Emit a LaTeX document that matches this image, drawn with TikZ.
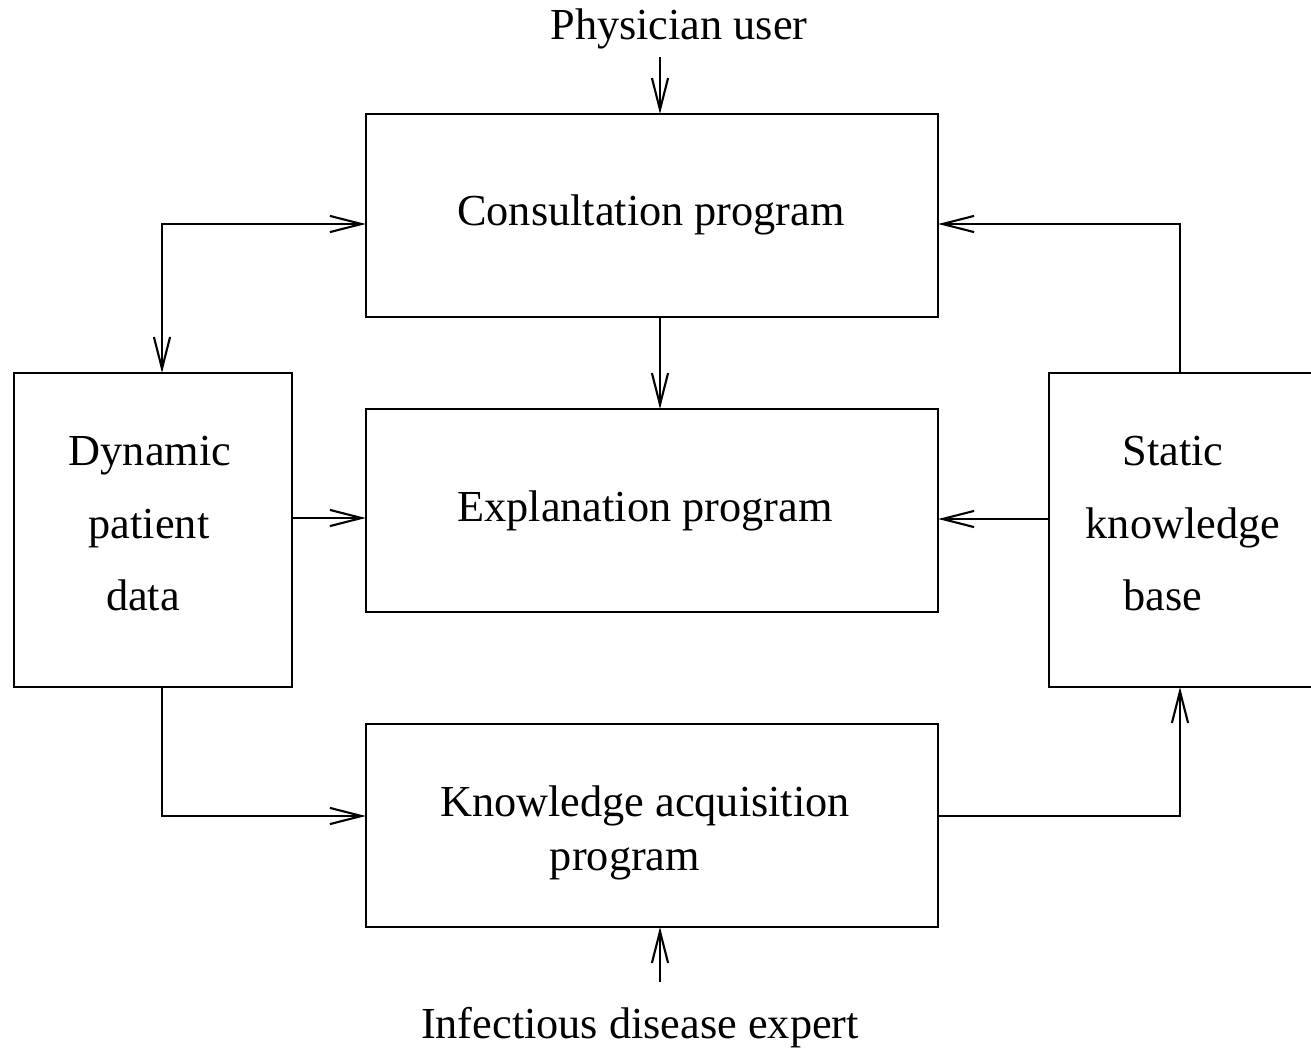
\documentclass[tikz,border=0pt]{standalone}
\usepackage{fontspec}
\setmainfont{Liberation Serif}
\usepackage{tikz}
\usetikzlibrary{arrows.meta}
\usetikzlibrary{calc}
\usetikzlibrary{positioning}

\tikzset{
  box/.style={draw, line width=0.6pt, rectangle, inner sep=0pt, outer sep=0pt},
  txt/.style={anchor=base, inner sep=0pt, font=\fontsize{12.6}{15}\selectfont},
  arr/.style={line width=0.6pt, -{Straight Barb[length=9pt,width=4.6pt,line width=0.6pt]}},
  darr/.style={line width=0.6pt, {Straight Barb[length=9pt,width=4.6pt,line width=0.6pt]}-{Straight Barb[length=9pt,width=4.6pt,line width=0.6pt]}}
}

\begin{document}
\begin{tikzpicture}[x=0.01cm, y=-0.01cm] % units are pixels of the sketch

      \useasboundingbox (0,0) rectangle (1311,1048);

      % boxes
      \node [box, minimum width=5.72cm, minimum height=2.03cm] (cons) at (652, 215.5) {};
      \node [box, minimum width=5.72cm, minimum height=2.03cm] (expl) at (652, 510.5) {};
      \node [box, minimum width=5.72cm, minimum height=2.03cm] (acq) at (652, 825.5) {};
      \node [box, minimum width=2.78cm, minimum height=3.14cm] (dyn) at (153, 530) {};
      \node [box, minimum width=2.75cm, minimum height=3.14cm] (kb) at (1186.5, 530) {};

      % texts
      \node [txt] (user) at (679, 39) {Physician user};
      \node [txt] (expert) at (640, 1038) {Infectious disease expert};
      \node [txt] (conslab) at (651, 225) {Consultation program};
      \node [txt] (expllab) at (645, 521) {Explanation program};
      \node [txt] (acqlabA) at (645, 816) {Knowledge acquisition};
      \node [txt] (acqlabB) at (625, 870) {program};
      \node [txt] (dynA) at (150, 465) {Dynamic};
      \node [txt] (dynB) at (149, 538) {patient};
      \node [txt] (dynC) at (143, 610) {data};
      \node [txt] (kbA) at (1173, 465) {Static};
      \node [txt] (kbB) at (1183, 538) {knowledge};
      \node [txt] (kbC) at (1163, 610) {base};

      % corners and free ends
      \coordinate (userin) at (660, 57);
      \coordinate (expin) at (660, 982);
      \coordinate (ca) at (162, 224);
      \coordinate (cb) at (1180, 224);
      \coordinate (ab) at (162, 816);
      \coordinate (ak) at (1180, 816);
      \coordinate (de) at (0, 518);
      \coordinate (ke) at (0, 519);

      \draw [arr] (userin) -- (userin |- cons.north);
      \draw [arr] (cons.south -| userin) -- (expl.north -| userin);
      \draw [arr] (expin) -- (expin |- acq.south);

      \draw [darr] (dyn.north -| ca) -- (ca) -- (ca -| cons.west);
      \draw [arr] (dyn.east |- de) -- (expl.west |- de);
      \draw [arr] (dyn.south -| ab) -- (ab) -- (ab -| acq.west);

      \draw [arr] (kb.north -| cb) -- (cb) -- (cb -| cons.east);
      \draw [arr] (kb.west |- ke) -- (expl.east |- ke);
      \draw [arr] (acq.east |- ak) -- (ak) -- (ak |- kb.south);

    \end{tikzpicture}
\end{document}
